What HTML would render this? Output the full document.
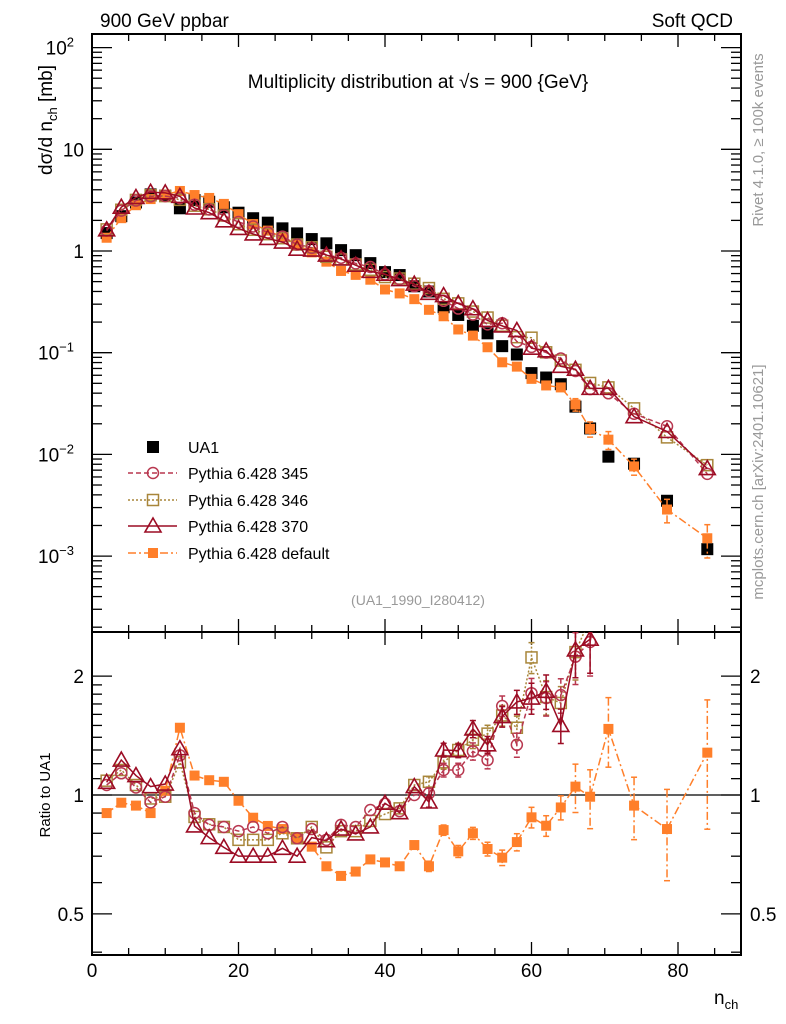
<!DOCTYPE html>
<html><head><meta charset="utf-8"><style>
html,body{margin:0;padding:0;background:#fff;}
svg{display:block;font-family:"Liberation Sans",sans-serif;}
</style></head><body>
<svg id="chart" width="786" height="1024" viewBox="0 0 786 1024" xmlns="http://www.w3.org/2000/svg">
<text x="100" y="27" font-size="19">900 GeV ppbar</text>
<text x="733" y="27" font-size="19" text-anchor="end">Soft QCD</text>
<text x="418" y="88" font-size="19" text-anchor="middle">Multiplicity distribution at √s = 900 {GeV}</text>
<text transform="translate(52,120) rotate(-90)" font-size="19" text-anchor="middle">dσ/d n<tspan font-size="13" dy="5">ch</tspan><tspan dy="-5"> [mb]</tspan></text>
<text transform="translate(763,140) rotate(-90)" font-size="15" fill="#999" text-anchor="middle">Rivet 4.1.0, ≥ 100k events</text>
<text transform="translate(763,482) rotate(-90)" font-size="15" fill="#999" text-anchor="middle">mcplots.cern.ch [arXiv:2401.10621]</text>
<text x="418" y="605" font-size="14" fill="#999" text-anchor="middle">(UA1_1990_I280412)</text>
<text transform="translate(50,795) rotate(-90)" font-size="15" text-anchor="middle">Ratio to UA1</text>
<text x="714" y="1004" font-size="19">n<tspan font-size="13" dy="5">ch</tspan></text>
<g id="main"></g><g id="ratio"></g><g id="legend"></g>
</svg>
<script>
const nch = [2,4,6,8,10,12,14,16,18,20,22,24,26,28,30,32,34,36,38,40,42,44,46,48,50,52,54,56,58,60,62,64,66,68,70.5,74,78.5,84];
const ua1 = [1.5,2.2,3.0,3.6,3.5,2.63,3.17,3.05,2.69,2.38,2.10,1.90,1.67,1.49,1.31,1.19,1.02,0.91,0.76,0.62,0.58,0.45,0.40,0.28,0.235,0.184,0.155,0.116,0.096,0.063,0.057,0.049,0.0295,0.018,0.0095,0.0081,0.0035,0.00117];
const ratio345 = [1.06,1.135,1.045,0.958,0.99,1.26,0.90,0.84,0.83,0.81,0.83,0.80,0.83,0.777,0.82,0.77,0.84,0.83,0.916,0.95,0.91,1.0,1.01,1.157,1.157,1.29,1.226,1.68,1.34,1.81,1.76,1.79,2.24,2.44,4.2,3.1,5.4,5.5];
const ratio346 = [1.087,1.157,1.06,0.98,0.99,1.21,0.88,0.843,0.83,0.77,0.77,0.77,0.80,0.777,0.83,0.737,0.81,0.81,0.86,0.895,0.925,1.06,1.08,1.21,1.30,1.38,1.43,1.59,1.48,2.23,1.77,1.71,2.30,2.8,4.8,3.5,4.2,6.7];
const ratio370 = [1.077,1.226,1.12,1.05,1.066,1.31,0.835,0.78,0.737,0.70,0.70,0.70,0.733,0.70,0.78,0.766,0.82,0.797,0.83,0.953,0.902,1.05,0.96,1.30,1.295,1.47,1.34,1.58,1.72,1.76,1.83,1.50,2.33,2.48,4.7,2.9,4.8,6.2];
const ratioDef = [0.90,0.956,0.94,0.90,1.025,1.48,1.12,1.09,1.08,0.967,0.876,0.835,0.82,0.777,0.74,0.66,0.624,0.64,0.687,0.675,0.66,0.747,0.66,0.815,0.72,0.80,0.73,0.694,0.76,0.878,0.836,0.93,1.05,0.99,1.47,0.94,0.82,1.28];
const errDef = [0.01,0.01,0.01,0.01,0.01,0.02,0.01,0.01,0.01,0.01,0.01,0.01,0.01,0.01,0.01,0.01,0.015,0.015,0.02,0.02,0.02,0.025,0.03,0.03,0.035,0.035,0.04,0.045,0.05,0.06,0.06,0.07,0.14,0.17,0.2,0.18,0.26,0.36];
const errMod = [0.01,0.01,0.01,0.01,0.01,0.02,0.01,0.01,0.01,0.01,0.01,0.01,0.01,0.01,0.01,0.01,0.015,0.015,0.02,0.02,0.02,0.025,0.03,0.04,0.04,0.05,0.05,0.06,0.07,0.09,0.1,0.1,0.15,0.18,0.3,0.25,0.4,0.5];

const NS="http://www.w3.org/2000/svg";
const L=92,R=741,T=34,MB=632,RB=955;
const X=v=>L+v*(R-L)/88.6;
const YM=v=>251-101.7*Math.log10(v);
const YR=v=>795-395*Math.log10(v);
function el(p,tag,a){const e=document.createElementNS(NS,tag);for(const k in a)e.setAttribute(k,a[k]);p.appendChild(e);return e;}
const main=document.getElementById('main'), rat=document.getElementById('ratio'), leg=document.getElementById('legend');

const defs=el(document.getElementById('chart'),'defs',{});
const c1=el(defs,'clipPath',{id:'cm'});el(c1,'rect',{x:L,y:T,width:R-L,height:MB-T});
const c2=el(defs,'clipPath',{id:'cr'});el(c2,'rect',{x:L,y:MB,width:R-L,height:RB-MB});

function frame(g,top,bot,name){
  const f=el(g,'rect',{x:L,y:top,width:R-L,height:bot-top,fill:'none',stroke:'#000','stroke-width':2});
  
  
  for(let v=0;v<=88;v+=5){const len=v%20===0?13:7;const x=X(v);
    el(g,'line',{x1:x,x2:x,y1:bot,y2:bot-len,stroke:'#000','stroke-width':1.3});
    el(g,'line',{x1:x,x2:x,y1:top,y2:top+len,stroke:'#000','stroke-width':1.3});}
}
frame(main,T,MB,'main-plot-frame');
frame(rat,MB,RB,'ratio-plot-frame');

for(let d=-4;d<=2;d++){for(let m=1;m<10;m++){const v=m*Math.pow(10,d);const y=YM(v);if(y<T||y>MB)continue;const len=m===1?20:10;
  el(main,'line',{x1:L,x2:L+len,y1:y,y2:y,stroke:'#000','stroke-width':1.3});
  el(main,'line',{x1:R,x2:R-len,y1:y,y2:y,stroke:'#000','stroke-width':1.3});}}
const ylab=[[100,'10','2'],[10,'10',''],[1,'1',''],[0.1,'10','−1'],[0.01,'10','−2'],[0.001,'10','−3']];
ylab.forEach(([v,b,e])=>{const t=el(main,'text',{x:e?74:84,y:YM(v)+7,'font-size':19,'text-anchor':'end'});
  
  
  if(v===10){t.setAttribute('x',84);t.textContent='10';}
  else if(v===1){t.setAttribute('x',84);t.textContent='1';}
  else{t.textContent=b;const s=el(t,'tspan',{'font-size':13,dy:-8});s.textContent=e;}});

[0.4,0.5,0.6,0.7,0.8,0.9,1,2].forEach(v=>{const y=YR(v);const len=(v===0.5||v===1||v===2)?20:10;
  el(rat,'line',{x1:L,x2:L+len,y1:y,y2:y,stroke:'#000','stroke-width':1.3});
  el(rat,'line',{x1:R,x2:R-len,y1:y,y2:y,stroke:'#000','stroke-width':1.3});});
[1.1,1.2,1.3,1.4,1.5,1.6,1.7,1.8,1.9].forEach(v=>{const y=YR(v);
  el(rat,'line',{x1:L,x2:L+10,y1:y,y2:y,stroke:'#000','stroke-width':1.3});
  el(rat,'line',{x1:R,x2:R-10,y1:y,y2:y,stroke:'#000','stroke-width':1.3});});
[[2,'2'],[1,'1'],[0.5,'0.5']].forEach(([v,s])=>{
  const a=el(rat,'text',{x:84,y:YR(v)+7,'font-size':19,'text-anchor':'end'});a.textContent=s;
  
  
  const b=el(rat,'text',{x:750,y:YR(v)+7,'font-size':19});b.textContent=s;
  
  });
el(rat,'line',{x1:L,x2:R,y1:YR(1),y2:YR(1),stroke:'#000','stroke-width':1.3});
[0,20,40,60,80].forEach(v=>{const t=el(rat,'text',{x:X(v),y:977,'font-size':19,'text-anchor':'middle'});t.textContent=v;
  
  });

const C345='#b8374f',C346='#a8863a',C370='#9c0c24',CDEF='#ff7f2a';
function marker(g,kind,x,y,col){
  if(kind==='circ')return el(g,'circle',{cx:x,cy:y,r:5.5,fill:'none',stroke:col,'stroke-width':1.5});
  if(kind==='sq')return el(g,'rect',{x:x-5.5,y:y-5.5,width:11,height:11,fill:'none',stroke:col,'stroke-width':1.5});
  if(kind==='tri')return el(g,'path',{d:`M${x},${y-8}L${x+8},${y+6}L${x-8},${y+6}Z`,fill:'none',stroke:col,'stroke-width':1.6});
  if(kind==='fsq')return el(g,'rect',{x:x-5,y:y-5,width:10,height:10,fill:col});
  if(kind==='bsq')return el(g,'rect',{x:x-6,y:y-6,width:12,height:12,fill:'#000'});
}
function series(parent,name,vals,errs,Yf,kind,col,dash,clip,top){
  const g=el(parent,'g',{'clip-path':`url(#${clip})`});
  
  
  const pts=vals.map((v,i)=>[X(nch[i]),Yf(v)]);
  if(dash!==null)el(g,'polyline',{points:pts.map(p=>p.join(',')).join(' '),fill:'none',stroke:col,'stroke-width':1.5,'stroke-dasharray':dash});
  vals.forEach((v,i)=>{
    if(errs && pts[i][1]>top){const e=errs[i];const y1=Yf(v*(1+e)),y2=Yf(Math.max(v*(1-e),1e-6));
      if(y2-y1>10){el(g,'line',{x1:pts[i][0],x2:pts[i][0],y1:y1,y2:y2,stroke:col,'stroke-width':1.5,'stroke-dasharray':dash||''});
        el(g,'line',{x1:pts[i][0]-3,x2:pts[i][0]+3,y1:y1,y2:y1,stroke:col,'stroke-width':1.5});
        el(g,'line',{x1:pts[i][0]-3,x2:pts[i][0]+3,y1:y2,y2:y2,stroke:col,'stroke-width':1.5});}}
    const m=marker(g,kind,pts[i][0],pts[i][1],col);
    
    
  });
}
const mod=r=>r.map((v,i)=>v*ua1[i]);
series(main,'ua1-data',ua1,null,YM,'bsq','#000',null,'cm',T);
series(main,'pythia-default-main',mod(ratioDef),errDef,YM,'fsq',CDEF,'8,3,2,3','cm',T);
series(main,'pythia-346-main',mod(ratio346),null,YM,'sq',C346,'2,2','cm',T);
series(main,'pythia-345-main',mod(ratio345),null,YM,'circ',C345,'5,3','cm',T);
series(main,'pythia-370-main',mod(ratio370),null,YM,'tri',C370,'','cm',T);
series(rat,'pythia-default-ratio',ratioDef,errDef,YR,'fsq',CDEF,'8,3,2,3','cr',MB);
series(rat,'pythia-346-ratio',ratio346,errMod,YR,'sq',C346,'2,2','cr',MB);
series(rat,'pythia-345-ratio',ratio345,errMod,YR,'circ',C345,'5,3','cr',MB);
series(rat,'pythia-370-ratio',ratio370,errMod,YR,'tri',C370,'','cr',MB);

const legItems=[['UA1','bsq','#000',null],['Pythia 6.428 345','circ',C345,'5,3'],['Pythia 6.428 346','sq',C346,'2,2'],['Pythia 6.428 370','tri',C370,''],['Pythia 6.428 default','fsq',CDEF,'8,3,2,3']];
const legY=[447,473,500,526,553];
legItems.forEach(([lab,k,c,d],i)=>{const g=el(leg,'g',{});
  
  
  const y=legY[i];
  if(d!==null)el(g,'line',{x1:128,x2:177,y1:y,y2:y,stroke:c,'stroke-width':1.5,'stroke-dasharray':d});
  marker(g,k,153,y,c);
  const t=el(g,'text',{x:188,y:y+6,'font-size':16});t.textContent=lab;});
</script>
</body></html>
